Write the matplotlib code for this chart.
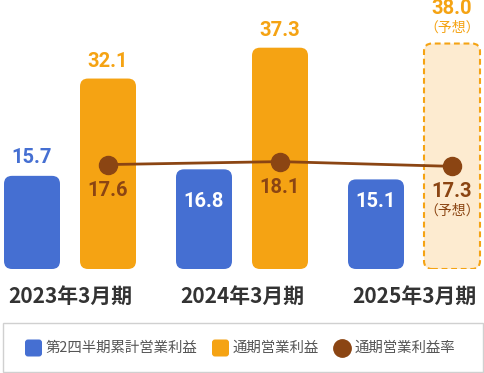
import numpy as np
import matplotlib.pyplot as plt
from matplotlib.patches import FancyBboxPatch, Rectangle
from matplotlib.lines import Line2D

periods = ['2023年3月期', '2024年3月期', '2025年3月期']
q2_profit = [15.7, 16.8, 15.1]
full_profit = [32.1, 37.3, 38.0]
margin = [17.6, 18.1, 17.3]
legend_labels = ['第2四半期累計営業利益', '通期営業利益', '通期営業利益率']

BLUE = '#456fd2'
ORANGE = '#f5a313'
BROWN = '#8b4513'
PALE = '#fdebd0'
NUM_FONT = ['Roboto', 'Noto Sans CJK JP']
CJK_FONT = ['Noto Sans CJK JP', 'DejaVu Sans']

W, H = 484, 373
fig = plt.figure(figsize=(W / 100, H / 100), dpi=100)
# axes: y=0 sits at pixel row 269, group spacing 172 px
px_per_y = 267 / 45
ax = fig.add_axes([0, 104 / H, 1, 267 / H])
ax.set_xlim(-70 / 172, 414 / 172)
ax.set_ylim(0, 45)
ax.axis('off')

x = np.arange(len(periods))
bw = 56 / 172
off = 38 / 172
rx = 8 / 172
ry = 8 / px_per_y


def rbar(xc, h, **kw):
    p = FancyBboxPatch((xc - bw / 2, 0), bw, h,
                       boxstyle=f'round,pad=0,rounding_size={rx}',
                       mutation_aspect=ry / rx, **kw)
    ax.add_patch(p)


def label(xc, y, s, dy, color, size=14.5, font=NUM_FONT, weight='bold'):
    ax.annotate(s, (xc, y), xytext=(0, dy * 0.72), textcoords='offset points',
                ha='center', va='center', color=color, fontsize=size,
                fontweight=weight, family=font, zorder=10, annotation_clip=False)


for i in range(len(periods)):
    rbar(x[i] - off, q2_profit[i], color=BLUE, lw=0)
    if i < 2:
        rbar(x[i] + off, full_profit[i], color=ORANGE, lw=0)
        label(x[i] + off, full_profit[i], f'{full_profit[i]:.1f}', 17, ORANGE)
    else:
        rbar(x[i] + off, full_profit[i], facecolor=PALE, edgecolor=ORANGE,
             lw=1.5, linestyle=(0, (2.8, 1.8)))
        label(x[i] + off, full_profit[i], f'{full_profit[i]:.1f}', 35, ORANGE)
        label(x[i] + off, full_profit[i], '（予想）', 16, ORANGE, size=10,
              font=CJK_FONT, weight='normal')
    if i == 0:
        label(x[i] - off, q2_profit[i], f'{q2_profit[i]:.1f}', 18, BLUE)
    else:
        label(x[i] - off, 11.3, f'{q2_profit[i]:.1f}', 0, 'white')

ax.plot(x + off, margin, color=BROWN, lw=2, marker='o', ms=13, zorder=5)
for i in range(len(periods)):
    label(x[i] + off, margin[i], f'{margin[i]:.1f}', -25.5, BROWN)
label(x[2] + off, margin[2], '（予想）', -44, BROWN, size=10,
      font=CJK_FONT, weight='normal')

for i, p in enumerate(periods):
    ax.text(x[i], -27 / px_per_y, p, ha='center', va='center', fontsize=15,
            fontweight='bold', color='#333333', family=CJK_FONT)

# legend box
fig.add_artist(Rectangle((3 / W, 1 / H), 480 / W, 49 / H, transform=fig.transFigure,
                         fill=False, ec='#d0d0d0', lw=1))
ly = 1 - 348 / H
for cx, c in [(25, BLUE), (212, ORANGE)]:
    fig.add_artist(FancyBboxPatch((cx / W, ly - 8.5 / H), 17 / W, 17 / H,
                                  boxstyle=f'round,pad=0,rounding_size={3 / W}',
                                  mutation_aspect=W / H, transform=fig.transFigure,
                                  color=c, lw=0))
fig.add_artist(Line2D([342 / W], [ly], marker='o', ms=12.5, color=BROWN, lw=0,
                      transform=fig.transFigure))
for tx, s in zip([46, 233, 355], legend_labels):
    fig.text(tx / W, ly, s, ha='left', va='center', fontsize=10.4, color='#555555',
             family=CJK_FONT)

fig.savefig('out.png', dpi=100)
